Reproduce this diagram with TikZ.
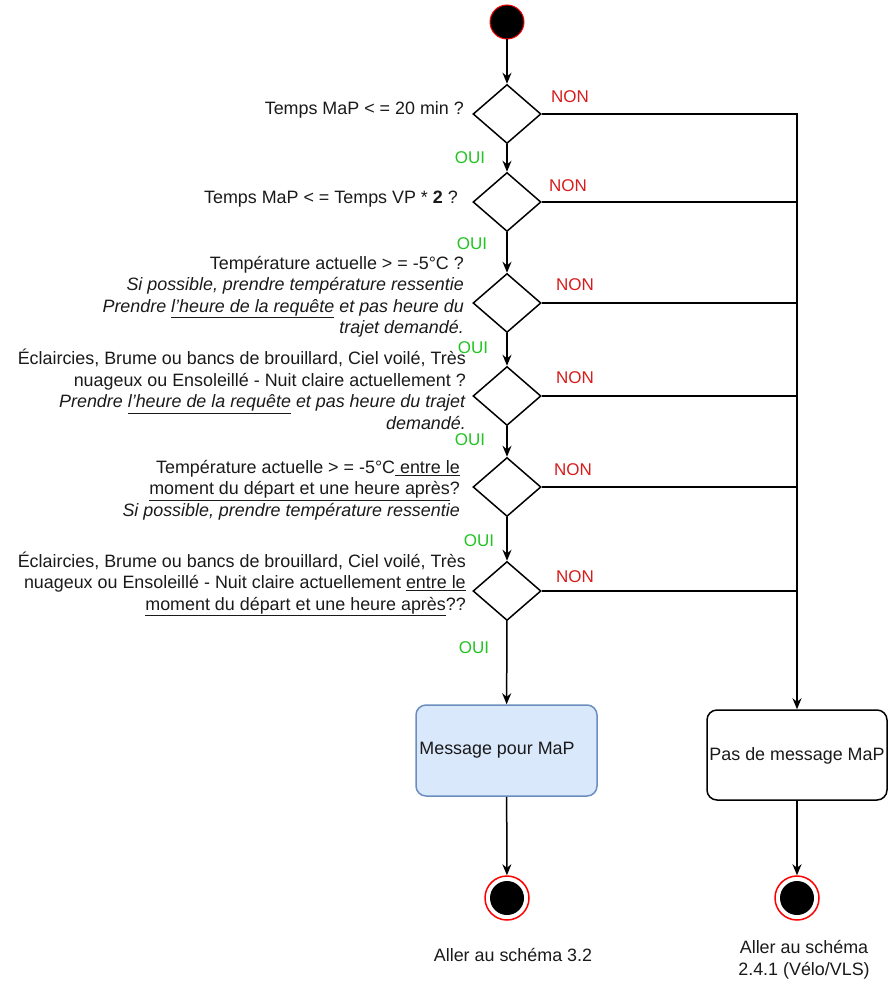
\documentclass[tikz,border=0pt]{standalone}
\usepackage{fontspec}
\setmainfont{Liberation Sans}
\usetikzlibrary{arrows.meta,shapes.geometric}
\definecolor{txt}{HTML}{1A1A1A}
\definecolor{oui}{HTML}{22C322}
\definecolor{non}{HTML}{D81B1B}
\definecolor{bluefill}{HTML}{DAE8FC}
\definecolor{blueline}{HTML}{6C8EBF}
\begin{document}
\begin{tikzpicture}[x=1pt,y=-1pt,
  every node/.style={font=\fontsize{17.9}{21.5}\selectfont, text=txt},
  dec/.style={diamond, draw, line width=1.5pt, minimum width=68pt, minimum height=59pt, aspect=1.15, inner sep=0pt},
  ln/.style={line width=1.5pt},
  arr/.style={line width=1.5pt, -{Stealth[length=11pt,width=9pt]}},
  lbl/.style={anchor=east, align=right, inner sep=0pt},
  ouil/.style={text=oui, inner sep=0pt, font=\fontsize{17}{20}\selectfont},
  nonl/.style={text=non, inner sep=0pt, font=\fontsize{17}{20}\selectfont},
  endc/.style={circle, draw=red, line width=1.5pt, fill=white, minimum size=44pt, inner sep=0pt},
  box/.style={rounded corners=10pt, line width=1.5pt, inner sep=0pt}
]
\useasboundingbox (0,0) rectangle (891,982);

\node[circle, fill=black, draw=red, line width=1pt, minimum size=34pt, inner sep=0pt] (start) at (507,22) {};

\node[dec] (d1) at (507,114) {};
\node[dec] (d2) at (507,202) {};
\node[dec] (d3) at (507,303) {};
\node[dec] (d4) at (507,396) {};
\node[dec] (d5) at (507,487) {};
\node[dec] (d6) at (507,591) {};

\node[box, draw=blueline, fill=bluefill, minimum width=181pt, minimum height=91pt] (msg) at (506.5,750.5) {};
\node[inner sep=0pt] (msgtxt) at (497,750) {Message pour MaP};
\node[box, draw=black, fill=white, minimum width=180pt, minimum height=90pt] (pas) at (797,755) {};
\node[inner sep=0pt] (pastxt) at (797,756) {Pas de message MaP};

\node[endc] (e1) at (507,898) {};
\fill[black] (e1.center) circle (17pt);
\node[endc] (e2) at (797,898) {};
\fill[black] (e2.center) circle (17pt);

% question labels
\node[lbl] (q1) at (464,110) {Temps MaP < = 20 min ?};
\node[lbl] (q2) at (458,199) {Temps MaP < = Temps VP * \textbf{2} ?};
\node[lbl] (q3) at (464,297) {Température actuelle > = -5°C ?\\
  \textit{Si possible, prendre température ressentie}\\
  \textit{Prendre \underline{l'heure de la requête} et pas heure du}\\
  \textit{trajet demandé.}};
\node[lbl] (q4) at (466,389.5) {Éclaircies, Brume ou bancs de brouillard, Ciel voilé, Très\\
  nuageux ou Ensoleillé - Nuit claire actuellement ? \\
  \textit{Prendre \underline{l'heure de la requête} et pas heure du trajet}\\
  \textit{demandé.}};
\node[lbl] (q5) at (460,490) {Température actuelle > = -5°C\underline{ entre le}\\
  \underline{moment du départ et une heure après}?\\
  \textit{Si possible, prendre température ressentie}};
\node[lbl] (q6) at (466,584) {Éclaircies, Brume ou bancs de brouillard, Ciel voilé, Très\\
  nuageux ou Ensoleillé - Nuit claire actuellement \underline{entre le}\\
  \underline{moment du départ et une heure après}??};

% connectors
\draw[arr] (start) -- (d1);
\draw[arr] (d1) -- (d2);
\draw[arr] (d2) -- (d3);
\draw[arr] (d3) -- (d4);
\draw[arr] (d4) -- (d5);
\draw[arr] (d5) -- (d6);
\draw[arr] (d6) -- (msg);
\draw[arr] (msg) -- (e1);
\draw[arr] (pas) -- (e2);
\draw[arr] (d1.east) -| (pas.north);
\draw[ln] (d2.east) -- (d2.east -| pas.north);
\draw[ln] (d3.east) -- (d3.east -| pas.north);
\draw[ln] (d4.east) -- (d4.east -| pas.north);
\draw[ln] (d5.east) -- (d5.east -| pas.north);
\draw[ln] (d6.east) -- (d6.east -| pas.north);

% OUI / NON
\node[ouil] (o1) at (470,158) {OUI};
\node[ouil] (o2) at (472,244) {OUI};
\node[ouil] (o3) at (473,348) {OUI};
\node[ouil] (o4) at (470,440) {OUI};
\node[ouil] (o5) at (479,541) {OUI};
\node[ouil] (o6) at (474,648) {OUI};
\node[nonl] (n1) at (570,97) {NON};
\node[nonl] (n2) at (568,186) {NON};
\node[nonl] (n3) at (575,285) {NON};
\node[nonl] (n4) at (575,378) {NON};
\node[nonl] (n5) at (573,470) {NON};
\node[nonl] (n6) at (575,577) {NON};

\node[inner sep=0pt] (g1) at (513,955) {Aller au schéma 3.2};
\node[inner sep=0pt, align=center] (g2) at (804,960) {Aller au schéma\\2.4.1 (Vélo/VLS)};
\end{tikzpicture}
\end{document}
